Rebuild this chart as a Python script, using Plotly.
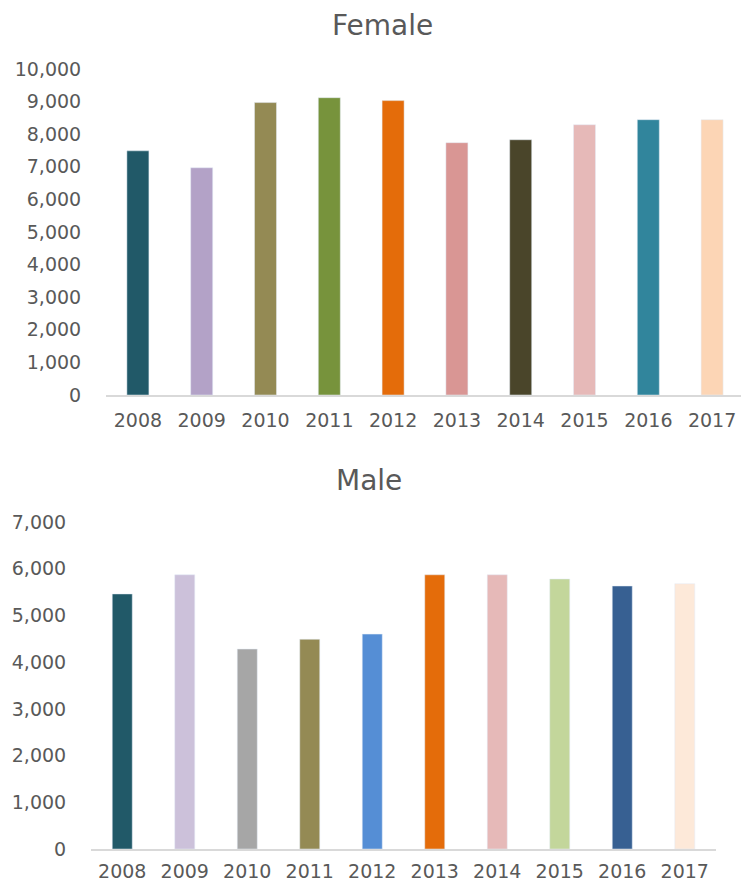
import plotly.graph_objects as go
from plotly.subplots import make_subplots

years = ["2008", "2009", "2010", "2011", "2012", "2013", "2014", "2015", "2016", "2017"]

female_values = [7490, 6970, 8970, 9120, 9030, 7740, 7830, 8290, 8445, 8445]
male_values = [5460, 5870, 4280, 4490, 4600, 5870, 5870, 5780, 5630, 5680]

female_colors = ["#215968", "#b3a2c7", "#948a54", "#77933c", "#e46c0a",
                 "#d99694", "#4a452a", "#e6b9b8", "#31859c", "#fcd5b5"]
male_colors = ["#215968", "#ccc1da", "#a6a6a6", "#948a54", "#558ed5",
               "#e46c0a", "#e6b9b8", "#c3d69b", "#376092", "#fde9d9"]

W, H = 741, 882
FONT = "DejaVu Sans"
GREY = "#595959"


def px(x):
    return x / W


def py(y):
    return 1 - y / H


fig = make_subplots(rows=2, cols=1)

fig.add_trace(go.Bar(x=years, y=female_values, marker_color=female_colors,
                     width=0.345, showlegend=False), row=1, col=1)
fig.add_trace(go.Bar(x=years, y=male_values, marker_color=male_colors,
                     width=0.32, showlegend=False), row=2, col=1)

# -------------------------
# Axes (pixel-matched domains, no automargin)
# -------------------------
common_x = dict(type="category", showgrid=False, zeroline=False, automargin=False,
                showline=True, linecolor="#d9d9d9", linewidth=2,
                ticks="outside", tickcolor="rgba(0,0,0,0)",
                tickfont=dict(family=FONT, size=19, color=GREY))
common_y = dict(showgrid=False, zeroline=False, showline=False, automargin=False,
                tickformat=",", dtick=1000,
                ticks="outside", ticklen=20, tickcolor="rgba(0,0,0,0)",
                tickfont=dict(family=FONT, size=19, color=GREY))

fig.update_xaxes(common_x, domain=[px(106), 1.0], ticklen=7,
                 range=[-0.5, -0.5 + (741 - 106) / 63.8], row=1, col=1)
fig.update_xaxes(common_x, domain=[px(91), px(716)], ticklen=4,
                 range=[-0.5, 9.5], row=2, col=1)
fig.update_yaxes(common_y, domain=[py(395), py(69)], range=[0, 10000], row=1, col=1)
fig.update_yaxes(common_y, domain=[py(849), py(522)], range=[0, 7000], row=2, col=1)

# -------------------------
# Titles
# -------------------------
fig.add_annotation(x=px(382), y=py(26), xref="paper", yref="paper",
                   text="Female", showarrow=False, yanchor="middle",
                   font=dict(family=FONT, size=28, color=GREY))
fig.add_annotation(x=px(369), y=py(480), xref="paper", yref="paper",
                   text="Male", showarrow=False, yanchor="middle",
                   font=dict(family=FONT, size=28, color=GREY))

fig.update_layout(
    width=W, height=H,
    margin=dict(l=0, r=0, t=0, b=0),
    plot_bgcolor="white",
    paper_bgcolor="white",
)

# drop the default 8px body margin so the figure fills the window exactly
fig.write_html("out.html",
               config={"displayModeBar": False},
               post_script="document.body.style.margin='0';"
                           "document.body.style.overflow='hidden';")
